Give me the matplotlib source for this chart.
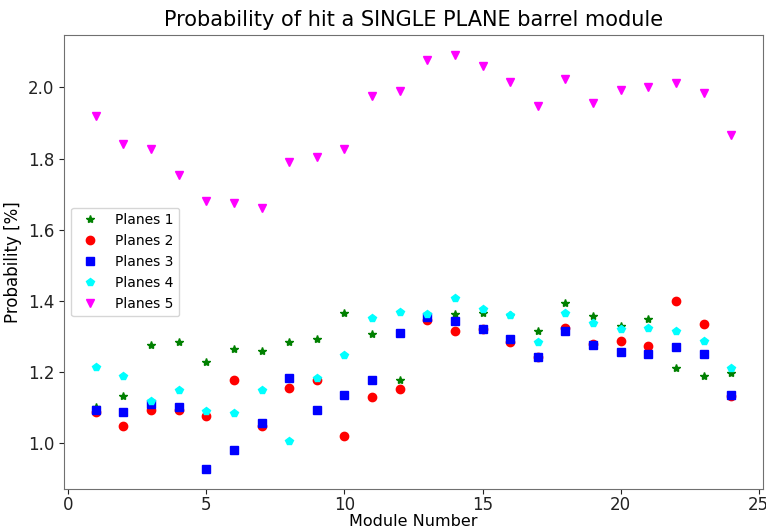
import matplotlib
matplotlib.use('Agg')
import matplotlib.pyplot as plt

# module index along the barrel
modules = list(range(1, 25))

# hit probability [%] per module for each number of planes
planes_1 = [1.102, 1.132, 1.275, 1.286, 1.229, 1.264, 1.259, 1.286, 1.293, 1.367,
            1.306, 1.177, 1.357, 1.364, 1.366, 1.360, 1.315, 1.393, 1.359, 1.331,
            1.350, 1.212, 1.188, 1.199]
planes_2 = [1.088, 1.050, 1.093, 1.095, 1.076, 1.179, 1.049, 1.155, 1.179, 1.021,
            1.129, 1.153, 1.347, 1.316, 1.322, 1.284, 1.243, 1.324, 1.280, 1.287,
            1.273, 1.399, 1.334, 1.132]
planes_3 = [1.093, 1.087, 1.110, 1.102, 0.929, 0.982, 1.056, 1.185, 1.094, 1.135,
            1.179, 1.311, 1.355, 1.343, 1.320, 1.293, 1.244, 1.316, 1.275, 1.258,
            1.252, 1.272, 1.252, 1.135]
planes_4 = [1.214, 1.188, 1.118, 1.150, 1.091, 1.084, 1.150, 1.006, 1.185, 1.249,
            1.352, 1.370, 1.363, 1.408, 1.378, 1.361, 1.286, 1.367, 1.337, 1.320,
            1.323, 1.316, 1.287, 1.212]
planes_5 = [1.920, 1.840, 1.828, 1.755, 1.682, 1.676, 1.661, 1.790, 1.804, 1.828,
            1.976, 1.990, 2.078, 2.090, 2.060, 2.016, 1.949, 2.024, 1.955, 1.992,
            2.001, 2.013, 1.984, 1.866]

fig = plt.figure(figsize=(7.66, 5.31), dpi=100)
ax = fig.add_axes([0.0836, 0.0785, 0.9124, 0.8562])

ax.plot(modules, planes_1, '*', color='green', markersize=6, label='Planes 1')
ax.plot(modules, planes_2, 'o', color='red', markersize=6, label='Planes 2')
ax.plot(modules, planes_3, 's', color='blue', markersize=6, label='Planes 3')
ax.plot(modules, planes_4, 'p', color='cyan', markersize=6, label='Planes 4')
ax.plot(modules, planes_5, 'v', color='magenta', markersize=6, label='Planes 5')

ax.set_title('Probability of hit a SINGLE PLANE barrel module', fontsize=15)
ax.set_xlabel('Module Number', fontsize=11.5, labelpad=0)
ax.set_ylabel('Probability [%]', fontsize=12)
ax.tick_params(labelsize=12, colors='#222222')
ax.tick_params(axis='x', pad=1.5)
ax.set_xticks([0, 5, 10, 15, 20, 25])

for s in ax.spines.values():
    s.set_color('#707070')

ax.legend(loc='center left', fontsize=10)

fig.savefig('out.png', dpi=100)
